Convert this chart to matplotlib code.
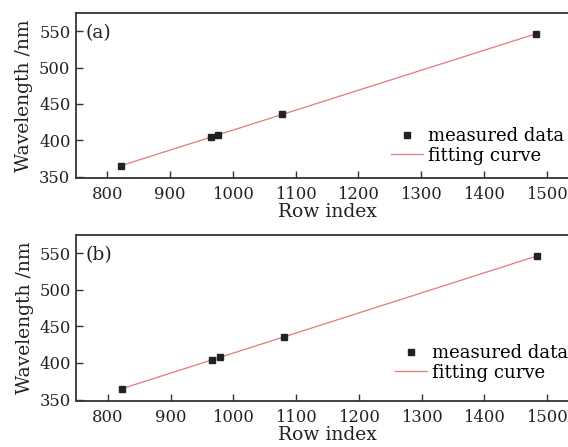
import numpy as np
import matplotlib
matplotlib.use("Agg")
import matplotlib.pyplot as plt

# measured calibration points (Hg lines) for the two panels
row_a = [821, 965, 977, 1079, 1483]
wl_a = [364.0, 404.7, 407.8, 435.8, 546.1]
row_b = [822, 966, 978, 1080, 1484]
wl_b = [364.0, 404.7, 407.8, 435.8, 546.1]

panel_labels = ["(a)", "(b)"]
xticks = [800, 900, 1000, 1100, 1200, 1300, 1400, 1500]
yticks = [350, 400, 450, 500, 550]

plt.rcParams["font.family"] = ["DejaVu Serif"]
plt.rcParams["font.size"] = 13.5

W, H = 568, 447
fig = plt.figure(figsize=(W / 100, H / 100), dpi=100)


def px_axes(left, top, right, bottom):
    return fig.add_axes([left / W, 1 - bottom / H, (right - left) / W, (bottom - top) / H])


axes = [px_axes(76, 13, 578, 178), px_axes(76.5, 235, 578.5, 401)]
data = [(row_a, wl_a), (row_b, wl_b)]
leg_pos = [(391, 127), (395, 344)]

for ax, (rows, wls), lab, lp in zip(axes, data, panel_labels, leg_pos):
    rows = np.array(rows, dtype=float)
    wls = np.array(wls, dtype=float)
    k, b = np.polyfit(rows, wls, 1)
    xs = np.array([rows.min(), rows.max()])
    ax.plot(xs, k * xs + b, color="#e07a78", lw=0.9, label="fitting curve", zorder=2)
    ax.plot(rows, wls, "s", color="#222222", ms=5, ls="none", label="measured data", zorder=3)

    ax.set_xlim(750, 1550)
    ax.set_ylim(348, 575)
    ax.set_xticks(xticks)
    ax.set_yticks(yticks)
    ax.tick_params(direction="in", length=5, width=1.0, color="#333333", pad=4,
                   labelcolor="#222222", labelsize=11.8)
    ax.tick_params(axis="x", pad=6)
    for s in ax.spines.values():
        s.set_linewidth(1.3)
        s.set_color("#333333")
    ax.set_xlabel("Row index", labelpad=0, color="#222222")
    ax.set_ylabel("Wavelength /nm", labelpad=4, color="#222222")
    ax.text(0.018, 0.88, lab, transform=ax.transAxes, ha="left", va="center",
            color="#222222")

    handles, labels = ax.get_legend_handles_labels()
    ax.legend(handles[::-1], labels[::-1], loc="upper left",
              bbox_to_anchor=(lp[0] / W, 1 - lp[1] / H), bbox_transform=fig.transFigure,
              frameon=False, borderpad=0, borderaxespad=0, handlelength=1.75,
              handletextpad=0.3, labelspacing=0.1, fontsize=13)

fig.savefig("out.png", dpi=100)
